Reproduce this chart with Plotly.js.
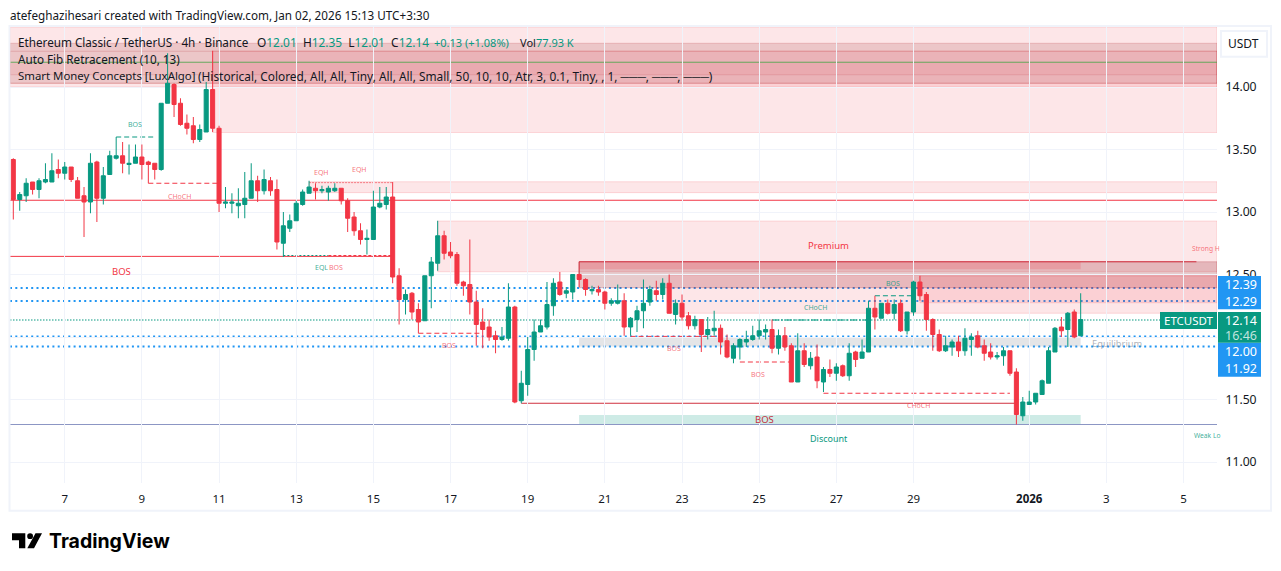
<!DOCTYPE html>
<html><head><meta charset="utf-8">
<script src="https://cdn.plot.ly/plotly-3.0.1.min.js"></script>
<style>html,body{margin:0;padding:0;background:#fff}#chart{width:1281px;height:571px}</style>
</head><body><div id="chart"></div>
<script>
var opens=[13.42,13.10,13.13,13.24,13.18,13.24,13.24,13.34,13.31,13.36,
13.25,13.13,13.08,13.40,13.11,13.30,13.43,13.45,13.38,13.39,
13.44,13.40,13.39,13.34,13.87,14.02,13.87,13.71,13.69,13.58,
13.64,13.98,13.67,13.07,13.07,13.05,13.06,13.11,13.25,13.17,
13.25,13.18,12.75,12.87,12.93,13.06,13.15,13.19,13.17,13.16,
13.17,13.19,13.09,12.96,12.85,12.78,12.78,13.04,13.06,13.12,
12.49,12.30,12.35,12.22,12.13,12.49,12.59,12.81,12.68,12.66,
12.44,12.42,12.28,12.12,12.08,12.01,11.98,11.99,12.24,11.49,
11.62,11.90,12.04,12.08,12.25,12.44,12.35,12.36,12.50,12.46,
12.37,12.38,12.36,12.27,12.27,12.29,12.08,12.14,12.21,12.28,
12.37,12.34,12.43,12.18,12.27,12.17,12.09,12.14,12.02,12.05,
12.07,11.97,11.83,11.92,11.96,11.98,12.01,12.04,12.06,11.91,
12.01,11.93,11.64,11.89,11.77,11.84,11.64,11.74,11.71,11.77,
11.69,11.88,11.83,11.88,12.23,12.15,12.27,12.19,12.27,12.05,
12.20,12.44,12.34,12.14,12.02,11.89,11.92,11.96,11.89,11.98,
12.01,11.93,11.88,11.84,11.85,11.89,11.72,11.37,11.46,11.48,
11.54,11.63,11.88,12.08,12.06,12.20,12.01];
var highs=[13.43,13.16,13.27,13.24,13.27,13.39,13.47,13.42,13.40,13.36,
13.28,13.20,13.47,13.41,13.36,13.49,13.60,13.56,13.54,13.54,
13.54,13.41,13.39,13.87,14.27,14.03,13.91,13.78,13.76,13.70,
14.04,14.29,13.69,13.20,13.15,13.19,13.32,13.39,13.29,13.34,
13.28,13.26,13.00,12.98,13.09,13.18,13.25,13.23,13.21,13.21,
13.23,13.19,13.11,13.00,12.91,12.86,13.17,13.20,13.20,13.24,
12.55,12.38,12.36,12.27,12.49,12.64,12.93,12.85,12.76,12.68,
12.45,12.78,12.37,12.23,12.14,12.05,12.08,12.43,12.25,11.73,
12.00,12.14,12.14,12.44,12.47,12.52,12.40,12.50,12.50,12.47,
12.41,12.41,12.37,12.31,12.42,12.35,12.16,12.25,12.46,12.41,
12.45,12.47,12.50,12.30,12.34,12.20,12.17,12.14,12.16,12.21,
12.10,12.02,11.95,11.99,12.05,12.09,12.14,12.10,12.14,12.06,
12.08,11.95,12.03,11.95,11.88,11.94,11.76,11.82,11.79,11.78,
11.95,11.89,11.98,12.29,12.33,12.27,12.30,12.30,12.30,12.20,
12.45,12.49,12.36,12.15,12.06,12.01,11.98,12.01,12.07,12.03,
12.05,11.98,11.95,11.88,11.92,11.89,11.75,11.52,11.57,11.55,
11.66,11.92,12.08,12.16,12.20,12.22,12.35];
var lows=[12.94,13.01,13.08,13.14,13.11,13.23,13.24,13.27,13.26,13.24,
13.11,12.80,12.99,12.92,13.06,13.30,13.42,13.31,13.30,13.39,
13.26,13.23,13.26,13.33,13.87,13.76,13.69,13.62,13.55,13.56,
13.64,13.64,13.00,13.03,12.99,12.95,12.95,13.11,13.08,13.14,
13.13,12.70,12.64,12.84,12.93,13.05,13.15,13.10,13.15,13.09,
13.16,13.06,12.84,12.81,12.74,12.66,12.78,13.03,13.02,12.43,
12.10,12.18,12.14,12.03,12.13,12.23,12.53,12.62,12.63,12.41,
12.33,12.18,11.93,11.91,11.97,11.87,11.97,11.97,11.47,11.47,
11.53,11.81,12.04,12.06,12.17,12.33,12.31,12.30,12.40,12.33,
12.34,12.33,12.22,12.25,12.26,12.01,12.01,12.04,12.07,12.25,
12.29,12.30,12.19,12.10,12.13,12.06,12.06,11.88,11.98,12.01,
11.86,11.83,11.79,11.82,11.92,11.97,11.98,11.98,11.87,11.86,
11.89,11.64,11.64,11.76,11.74,11.59,11.56,11.68,11.65,11.68,
11.65,11.76,11.83,11.88,12.06,12.15,12.18,12.14,12.04,12.02,
12.17,12.29,12.05,11.89,11.88,11.88,11.85,11.84,11.85,11.85,
11.91,11.81,11.82,11.82,11.77,11.69,11.30,11.33,11.46,11.46,
11.54,11.63,11.88,12.00,11.92,11.99,12.01];
var closes=[13.10,13.14,13.23,13.18,13.25,13.26,13.33,13.31,13.36,13.26,
13.11,13.08,13.39,13.11,13.29,13.45,13.45,13.39,13.39,13.44,
13.38,13.38,13.34,13.87,14.03,13.86,13.70,13.67,13.58,13.66,
13.98,13.67,13.07,13.08,13.08,13.07,13.11,13.25,13.17,13.26,
13.17,12.76,12.89,12.93,13.07,13.16,13.20,13.17,13.18,13.19,
13.19,13.09,12.95,12.85,12.78,12.79,13.04,13.07,13.12,12.48,
12.30,12.34,12.20,12.12,12.49,12.60,12.81,12.67,12.65,12.43,
12.41,12.28,12.10,12.06,12.00,11.98,12.00,12.24,11.48,11.63,
11.90,12.04,12.09,12.26,12.43,12.34,12.37,12.50,12.46,12.38,
12.38,12.36,12.27,12.29,12.29,12.08,12.15,12.21,12.27,12.38,
12.34,12.43,12.19,12.27,12.16,12.09,12.14,12.02,12.06,12.07,
11.96,11.84,11.93,11.98,11.98,12.01,12.05,12.06,11.91,12.01,
11.92,11.64,11.89,11.78,11.83,11.65,11.74,11.71,11.76,11.69,
11.87,11.82,11.88,12.23,12.16,12.27,12.19,12.26,12.05,12.20,
12.44,12.33,12.14,12.02,11.89,11.93,11.96,11.89,11.99,12.00,
11.92,11.87,11.84,11.85,11.89,11.71,11.38,11.48,11.48,11.55,
11.65,11.89,12.07,12.05,12.19,12.00,12.14];

var dayTicks=[9,21,33,45,57,69,81,93,105,117,129,141,159,171,183];
var dayLabels=['7','9','11','13','15','17','19','21','23','25','27','29','<b>2026</b>','3','5'];
var priceTicks=[11,11.5,12,12.5,13,13.5,14];
var priceLabels=['11.00','11.50','','12.50','13.00','13.50','14.00'];

var X0=0.487, X1=188.2, YTOP=14.48, YBOT=10.832;
var PINK='rgba(242,54,69,0.125)', PINKLINE='rgba(242,54,69,0.16)';
var GREY='rgba(150,30,40,0.23)', BAND='rgba(150,30,40,0.16)';
// blue price lines sit underneath the zones: [price]
var alertPrices=[12.392,12.288,12.004,11.924];
// zones: [startCandle, endCandle, top, bottom, fill, outline]
var zones=[
 [X0,X1,14.48,14.0,PINK,PINKLINE],
 [32,X1,14.288,13.636,PINK,PINKLINE],
 [X0,X1,14.35,14.03,BAND,'rgba(178,40,51,0.2)'],
 [X0,X1,14.286,14.03,'rgba(242,54,69,0)','rgba(178,40,51,0.2)'],
 [X0,X1,14.198,14.098,'rgba(242,54,69,0.07)','rgba(178,40,51,0.15)'],
 [47,X1,13.242,13.155,PINK,PINKLINE],
 [67,X1,12.928,12.522,PINK,PINKLINE],
 [89,X1,12.602,12.394,GREY,'rgba(178,40,51,0.25)'],
 [89,167,12.602,12.542,'rgba(242,54,69,0.2)','rgba(0,0,0,0)'],
 [103,X1,12.496,12.19,PINK,PINKLINE],
 [142,X1,12.488,12.274,PINK,PINKLINE],
 [89,167,11.994,11.924,'rgba(120,123,134,0.2)','rgba(0,0,0,0)'],
 [89,167,11.376,11.302,'rgba(8,153,129,0.2)','rgba(0,0,0,0)']
];
// lines: [x0,y0,x1,y1,color,width,dash]
var RED='#f23645', DRED='#d0313f', TEAL='#089981', BLUE='#2196f3';
var lines=[
 [X0,14.198,X1,14.198,'rgba(76,175,80,0.8)',1,'solid'],
 [X0,13.094,X1,13.094,RED,1,'solid'],
 [X0,12.645,60,12.645,RED,1,'solid'],
 [80,11.47,157,11.47,DRED,1,'solid'],
 [X0,11.30,X1,11.30,'#8c96c4',1,'solid'],
 [89,12.602,185,12.602,DRED,1,'solid'],
 [89,12.602,89,12.50,DRED,1,'solid'],
 [X0,12.136,X1,12.136,TEAL,1.2,'1.5px,1.5px'],
 [17,13.60,23,13.60,TEAL,1,'5px,3px'],
 [22,13.23,33,13.23,RED,1,'5px,3px'],
 [64,12.03,74,12.03,RED,1,'5px,3px'],
 [97,12.005,111,12.005,RED,1,'5px,3px'],
 [114,11.80,122,11.80,RED,1,'5px,3px'],
 [127,11.55,156,11.55,RED,1,'5px,3px'],
 [119,12.136,134,12.136,TEAL,1.2,'7px,2px,2px,2px'],
 [135,12.33,141,12.33,TEAL,1,'5px,3px'],
 [47,13.235,60,13.235,'rgba(242,54,69,0.6)',1,'2px,1px'],
 [43,12.652,50,12.652,TEAL,1,'2px,2px'],
 [50,12.652,60,12.652,RED,1,'3px,2px']
];
// structure labels: text, candle position, price, color, size
var labelText=['BOS','CHoCH','EQH','EQH','EQL','BOS','BOS','Premium','Discount','BOS','BOS','BOS','BOS','CHoCH','BOS','CHoCH','Equilibrium'];
var labelX=[19.9,26.8,48.9,54.9,48.9,51.2,17.75,127.8,127.8,117.9,68.8,103.7,116.8,141.8,137.8,125.8,172.6];
var labelY=[13.704,13.128,13.32,13.344,12.56,12.56,12.528,12.736,11.192,11.344,11.936,11.912,11.704,11.456,12.432,12.24,11.952];
var labelColor=['rgba(8,153,129,.8)','rgba(242,54,69,.7)','rgba(242,54,69,.7)','rgba(242,54,69,.7)','rgba(8,153,129,.8)','rgba(242,54,69,.7)','#f23645','#f23645','#089981','#c2303d','rgba(242,54,69,.7)','rgba(242,54,69,.7)','rgba(242,54,69,.7)','rgba(242,54,69,.7)','rgba(8,153,129,.8)','rgba(8,153,129,.8)','rgba(120,123,134,.6)'];
var labelSize=[7,7,7,7,7,7,9.5,9.5,9,9.5,7,7,7,7,7,7,9.3];

var L=10,R=1217,T=27,B=483,W=1281,H=571;
function px(x){return (x-L)/(R-L);} function py(y){return 1-(y-T)/(B-T);}
var FONT='"Noto Sans",sans-serif', INK='#131722';

var shapes=[];
alertPrices.forEach(function(p){shapes.push({type:'line',layer:'below',xref:'x',yref:'y',x0:X0,x1:X1,y0:p,y1:p,line:{color:BLUE,width:2,dash:'2px,3.3px'}});});
zones.forEach(function(z){shapes.push({type:'rect',layer:'below',xref:'x',yref:'y',x0:z[0],x1:z[1],y0:z[2],y1:z[3],fillcolor:z[4],line:{color:z[5],width:1}});});
lines.forEach(function(l){shapes.push({type:'line',layer:'below',xref:'x',yref:'y',x0:l[0],y0:l[1],x1:l[2],y1:l[3],line:{color:l[4],width:l[5],dash:l[6]}});});
function box(x0,y0,x1,y1,fill,lc,lw){shapes.push({type:'rect',layer:'above',xref:'paper',yref:'paper',x0:px(x0),x1:px(x1),y0:py(y0),y1:py(y1),fillcolor:fill,line:{color:lc||fill,width:lw===undefined?0:lw}});}
box(9.5,26,1271,510.7,'rgba(0,0,0,0)','#f0f3fa',2);
box(1218,276,1261,309.3,BLUE);
box(1218,342.7,1261,376.7,BLUE);
box(1218,312,1261,342.7,TEAL);
box(1160,312,1217,329,TEAL);
box(1221,31,1267,56.7,'#ffffff','#f0f3fa',2);
// TradingView mark
function poly(pts){return 'M'+pts.map(function(p){return px(p[0])+','+py(p[1]);}).join('L')+'Z';}
shapes.push({type:'path',layer:'above',xref:'paper',yref:'paper',path:poly([[12,533.3],[25.3,533.3],[25.3,548.3],[19,548.3],[19,540.2],[12,540.2]]),fillcolor:'#000',line:{width:0}});
shapes.push({type:'path',layer:'above',xref:'paper',yref:'paper',path:poly([[35.5,533.3],[42,533.3],[34,548.3],[27.3,548.3]]),fillcolor:'#000',line:{width:0}});
shapes.push({type:'circle',layer:'above',xref:'paper',yref:'paper',x0:px(27.2),x1:px(33),y0:py(533.3),y1:py(539),fillcolor:'#000',line:{width:0}});

var anns=[];
labelText.forEach(function(t,i){anns.push({xref:'x',yref:'y',x:labelX[i],y:labelY[i],text:t,showarrow:false,font:{family:FONT,size:labelSize[i],color:labelColor[i]}});});
anns.push({xref:'x',yref:'y',x:184,y:12.712,xanchor:'left',text:'Strong H',showarrow:false,font:{family:FONT,size:6.7,color:'rgba(242,54,69,.7)'}});
anns.push({xref:'x',yref:'y',x:184.3,y:11.216,xanchor:'left',text:'Weak Lo',showarrow:false,font:{family:FONT,size:6.7,color:'rgba(8,153,129,.8)'}});
function ptext(x,y,t,size,color,anchor,family){anns.push({xref:'paper',yref:'paper',x:px(x),y:py(y),xanchor:anchor||'left',yanchor:'middle',text:t,showarrow:false,font:{family:family||FONT,size:size,color:color||INK},align:'left',borderpad:0,borderwidth:0});}
var g=function(s){return '<span style="color:#089981">'+s+'</span>';};
ptext(10,15,'atefeghazihesari created with TradingView.com, Jan 02, 2026 15:13 UTC+3:30',11.7);
ptext(18,42,'Ethereum Classic / TetherUS · 4h · Binance',11.7);
ptext(257,42,'O'+g('12.01')+'  H'+g('12.35')+'  L'+g('12.01')+'  C'+g('12.14'),11.9);
ptext(434,42,g('+0.13 (+1.08%)'),11);
ptext(520,42,'Vol'+g('77.93 K'),11);
ptext(18,59,'Auto Fib Retracement (10, 13)',11.7);
ptext(18,76,'Smart Money Concepts [LuxAlgo]',11.4);
ptext(198,76,'(Historical, Colored, All, All, Tiny, All, All, Small, 50, 10, 10, Atr, 3, 0.1, Tiny, , 1, ───, ───, ───)',11.88);
ptext(1244,44,'USDT',12,INK,'center');
ptext(1241,284.5,'12.39',12.5,'#fff','center');
ptext(1241,301.5,'12.29',12.5,'#fff','center');
ptext(1241,320.7,'12.14',12.5,'#fff','center');
ptext(1241,335,'16:46',12.5,'rgba(255,255,255,.75)','center');
ptext(1241,351.7,'12.00',12.5,'#fff','center');
ptext(1241,368.3,'11.92',12.5,'#fff','center');
ptext(1188.7,320.5,'ETCUSDT',11.5,'#fff','center');
ptext(49,541,'<b>TradingView</b>',19.5,'#000','left','Inter');

var trace={type:'candlestick',x:opens.map(function(_,i){return i+1;}),open:opens,high:highs,low:lows,close:closes,
 increasing:{line:{color:TEAL,width:1},fillcolor:TEAL},decreasing:{line:{color:RED,width:1},fillcolor:RED},whiskerwidth:0,hoverinfo:'skip'};

var layout={width:W,height:H,paper_bgcolor:'#fff',plot_bgcolor:'#fff',showlegend:false,boxgap:0.1,boxgroupgap:0.3,dragmode:false,
 margin:{l:L,r:W-R,t:T,b:H-B,pad:0},
 xaxis:{range:[X0,X1],tickmode:'array',tickvals:dayTicks,ticktext:dayLabels,showgrid:true,gridcolor:'#f0f3fa',gridwidth:1,zeroline:false,showline:false,ticks:'outside',ticklen:5,tickcolor:'rgba(0,0,0,0)',tickfont:{family:FONT,size:11.5,color:INK},rangeslider:{visible:false},fixedrange:true},
 yaxis:{range:[YBOT,YTOP],side:'right',tickmode:'array',tickvals:priceTicks,ticktext:priceLabels,showgrid:true,gridcolor:'#f0f3fa',gridwidth:1,zeroline:false,showline:false,ticks:'outside',ticklen:5,tickcolor:'rgba(0,0,0,0)',tickfont:{family:FONT,size:12.2,color:INK},fixedrange:true},
 shapes:shapes,annotations:anns};
Plotly.newPlot('chart',[trace],layout,{displayModeBar:false,staticPlot:true});
</script></body></html>
